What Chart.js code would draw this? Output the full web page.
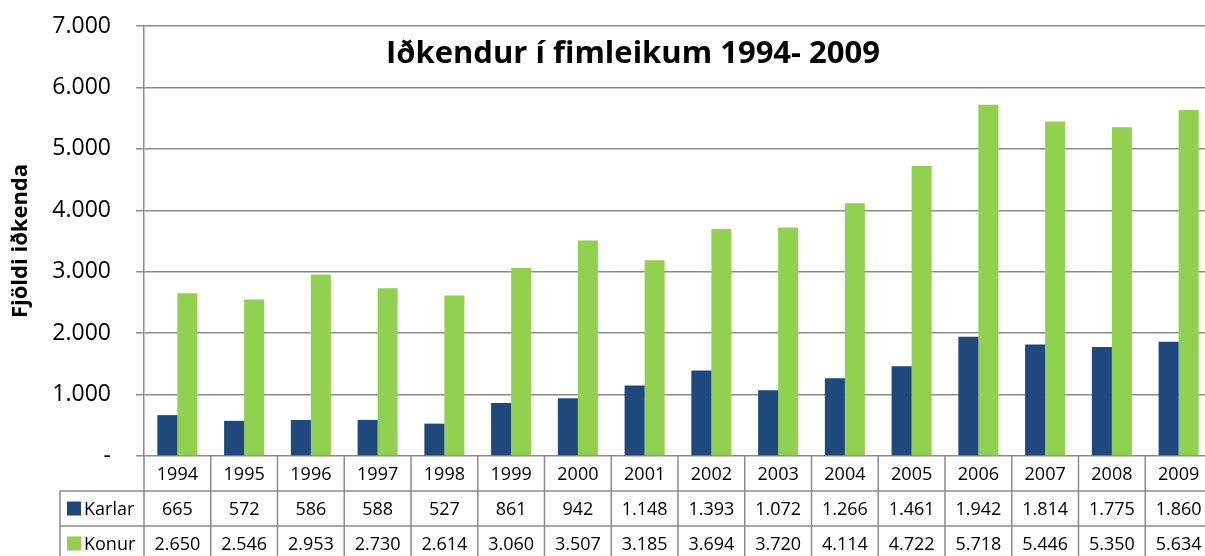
<!DOCTYPE html>
<html>
<head>
<meta charset="utf-8">
<script src="https://cdn.jsdelivr.net/npm/chart.js@4/dist/chart.umd.min.js"></script>
<style>
  html, body { margin: 0; padding: 0; background: #fff; overflow: hidden; }
  #wrap { width: 1212px; height: 556px; }
</style>
</head>
<body>
<div id="wrap"><canvas id="chart" width="1212" height="556"></canvas></div>
<script>
// Gögn lesin af myndinni
const years = ["1994", "1995", "1996", "1997", "1998", "1999", "2000", "2001",
  "2002", "2003", "2004", "2005", "2006", "2007", "2008", "2009"];
const karlar = [665, 572, 586, 588, 527, 861, 942, 1148, 1393, 1072, 1266, 1461, 1942, 1814, 1775, 1860];
const konur = [2650, 2546, 2953, 2730, 2614, 3060, 3507, 3185, 3694, 3720, 4114, 4722, 5718, 5446, 5350, 5634];
const seriesNames = ["Karlar", "Konur"];
const yTicks = [0, 1000, 2000, 3000, 4000, 5000, 6000, 7000];

const FONT = "'Open Sans', 'Liberation Sans', Arial, sans-serif";
const GRID = "#8c8c8c";
const BLUE = "#1F497D";
const GREEN = "#92D050";

// þúsundir með punkti, t.d. 1.148
function fmt(v) {
  return String(v).replace(/\B(?=(\d{3})+(?!\d))/g, ".");
}

// Tafla og titill teiknuð eftir á
const tablePlugin = {
  id: "dataTable",
  afterDraw(chart) {
    const ctx = chart.ctx;
    const x = chart.scales.x;
    const area = chart.chartArea;
    const n = years.length;
    const cw = (area.right - area.left) / n;
    const rowH = 35;
    const top = area.bottom;
    const labelLeft = 60;

    ctx.save();
    ctx.strokeStyle = GRID;
    ctx.lineWidth = 1.5;

    // láréttar línur
    ctx.beginPath();
    ctx.moveTo(area.left, top + rowH); ctx.lineTo(area.right, top + rowH);
    ctx.moveTo(labelLeft, top + rowH); ctx.lineTo(area.left, top + rowH);
    ctx.moveTo(labelLeft, top + 2 * rowH); ctx.lineTo(area.right, top + 2 * rowH);
    ctx.moveTo(labelLeft, top + 3 * rowH); ctx.lineTo(area.right, top + 3 * rowH);
    // lóðréttar línur
    for (let i = 0; i <= n; i++) {
      const px = area.left + i * cw;
      ctx.moveTo(px, top); ctx.lineTo(px, top + 3 * rowH);
    }
    ctx.moveTo(labelLeft, top + rowH); ctx.lineTo(labelLeft, top + 3 * rowH);
    ctx.stroke();

    // texti
    ctx.fillStyle = "#000";
    ctx.font = "18px " + FONT;
    ctx.textAlign = "center";
    ctx.textBaseline = "middle";
    const rows = [years, karlar.map(fmt), konur.map(fmt)];
    rows.forEach((row, r) => {
      row.forEach((t, i) => {
        ctx.fillText(t, x.getPixelForValue(i), top + r * rowH + rowH / 2 + 1);
      });
    });

    // skýringar
    const colors = [BLUE, GREEN];
    ctx.textAlign = "left";
    seriesNames.forEach((name, k) => {
      const cy = top + (k + 1) * rowH + rowH / 2;
      ctx.fillStyle = colors[k];
      ctx.fillRect(67, cy - 7, 14, 14);
      ctx.fillStyle = "#000";
      ctx.fillText(name, 84, cy + 1);
    });

    // titill
    ctx.font = "bold 31px " + FONT;
    ctx.textAlign = "center";
    ctx.fillText("Iðkendur í fimleikum 1994- 2009", 633, 54);
    ctx.restore();
  }
};

new Chart(document.getElementById("chart"), {
  type: "bar",
  data: {
    labels: years,
    datasets: [
      { label: seriesNames[0], data: karlar, backgroundColor: BLUE },
      { label: seriesNames[1], data: konur, backgroundColor: GREEN }
    ]
  },
  options: {
    responsive: false,
    devicePixelRatio: 1,
    animation: false,
    layout: { padding: { top: 26, bottom: 100, left: 0, right: 0 } },
    datasets: { bar: { categoryPercentage: 0.6, barPercentage: 1.0 } },
    scales: {
      x: { display: false },
      y: {
        min: 0,
        max: 7000,
        afterBuildTicks: (s) => { s.ticks = yTicks.map(v => ({ value: v })); },
        afterFit: (s) => { s.width = 144; s.paddingTop = 0; s.paddingBottom = 0; },
        border: { display: true, color: GRID, width: 1.5 },
        grid: { color: GRID, lineWidth: 1.5, tickLength: 8, drawTicks: true },
        ticks: {
          padding: 25,
          color: "#000",
          font: { family: FONT, size: 23 },
          callback: (v) => v === 0 ? "-" : fmt(v)
        },
        title: {
          display: true,
          text: "Fjöldi iðkenda",
          color: "#000",
          font: { family: FONT, size: 22, weight: "bold" },
          padding: { top: 8, bottom: 0 }
        }
      }
    },
    plugins: {
      legend: { display: false },
      tooltip: { enabled: false }
    }
  },
  plugins: [tablePlugin]
});
</script>
</body>
</html>
